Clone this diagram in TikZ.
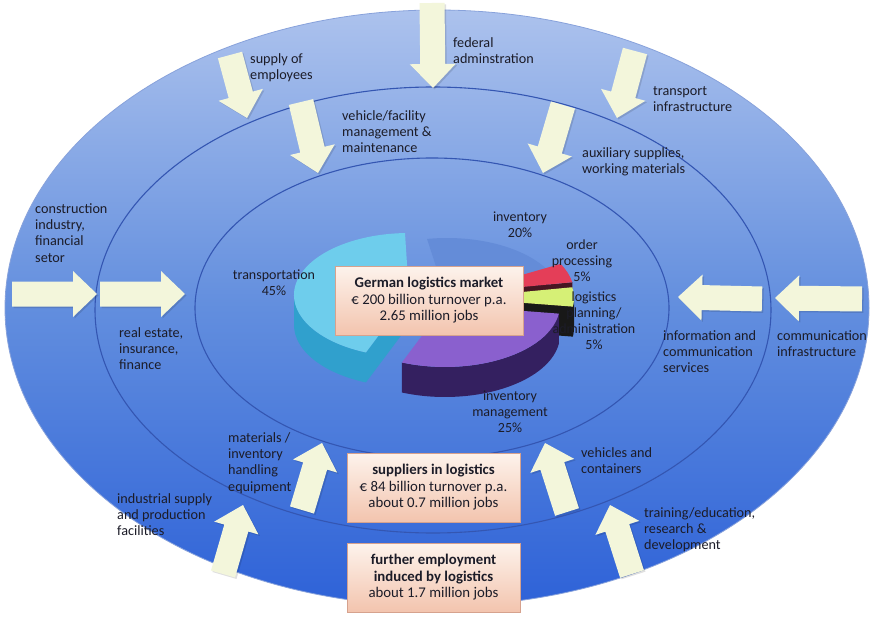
\documentclass[tikz,border=0pt]{standalone}
\usepackage{fontspec}
\setmainfont{Carlito}
\usetikzlibrary{calc}

% colours
\definecolor{bgtop}{RGB}{172,194,237}
\definecolor{bgmid}{RGB}{98,142,222}
\definecolor{bgbottom}{RGB}{46,98,216}
\definecolor{ringline}{RGB}{52,86,178}
\definecolor{arrowfill}{RGB}{243,246,219}
\definecolor{labeltext}{RGB}{28,28,40}
\definecolor{boxtop}{RGB}{253,243,236}
\definecolor{boxbottom}{RGB}{243,196,174}
\definecolor{boxline}{RGB}{214,162,142}
% pie colours
\definecolor{invtop}{RGB}{100,140,216}
\definecolor{invside}{RGB}{26,36,86}
\definecolor{ordtop}{RGB}{228,62,88}
\definecolor{ordside}{RGB}{70,22,34}
\definecolor{plantop}{RGB}{214,240,118}
\definecolor{planside}{RGB}{24,24,24}
\definecolor{trtop}{RGB}{110,205,236}
\definecolor{trside}{RGB}{48,160,205}
\definecolor{imtop}{RGB}{138,96,206}
\definecolor{imside}{RGB}{52,32,96}

% block arrow sizes (shaft half width, head half width, head length)
\def\aw{12.5}
\def\ah{23}
\def\ahl{24}

% block arrow from tail centre (#1,#2) to tip (#3,#4)
\newcommand{\blockarrow}[4]{%
  \pgfmathsetmacro\bdx{(#3)-(#1)}%
  \pgfmathsetmacro\bdy{(#4)-(#2)}%
  \pgfmathsetmacro\blen{veclen(\bdx,\bdy)}%
  \pgfmathsetmacro\bux{\bdx/\blen}%
  \pgfmathsetmacro\buy{\bdy/\blen}%
  \pgfmathsetmacro\bnx{0-(\buy)}%
  \pgfmathsetmacro\bny{\bux}%
  \pgfmathsetmacro\bbx{(#3)-(\bux)*\ahl}%
  \pgfmathsetmacro\bby{(#4)-(\buy)*\ahl}%
  \pgfmathsetmacro\baAx{(#1)+(\bnx)*\aw}\pgfmathsetmacro\baAy{(#2)+(\bny)*\aw}%
  \pgfmathsetmacro\baBx{\bbx+(\bnx)*\aw}\pgfmathsetmacro\baBy{\bby+(\bny)*\aw}%
  \pgfmathsetmacro\baCx{\bbx+(\bnx)*\ah}\pgfmathsetmacro\baCy{\bby+(\bny)*\ah}%
  \pgfmathsetmacro\baDx{\bbx-(\bnx)*\ah}\pgfmathsetmacro\baDy{\bby-(\bny)*\ah}%
  \pgfmathsetmacro\baEx{\bbx-(\bnx)*\aw}\pgfmathsetmacro\baEy{\bby-(\bny)*\aw}%
  \pgfmathsetmacro\baFx{(#1)-(\bnx)*\aw}\pgfmathsetmacro\baFy{(#2)-(\bny)*\aw}%
  \begin{scope}[shift={(1.5,1.5)}]
  \fill[arrowshade] (\baAx,\baAy) -- (\baBx,\baBy) -- (\baCx,\baCy) -- (#3,#4)
    -- (\baDx,\baDy) -- (\baEx,\baEy) -- (\baFx,\baFy) -- cycle;%
  \end{scope}
  \fill[arrowbody] (\baAx,\baAy) -- (\baBx,\baBy) -- (\baCx,\baCy) -- (#3,#4)
    -- (\baDx,\baDy) -- (\baEx,\baEy) -- (\baFx,\baFy) -- cycle;%
}

% pie geometry: top face radii 115 and 62, thickness 30
% side wall of a slice along one radius: centre x, centre y, angle, colour
\newcommand{\piewall}[4]{%
  \fill[#4] (#1,#2) -- ++(#3:115 and 62) -- ++(0,30) -- (#1,#2+30) -- cycle;}
% curved outer side of a slice: centre x, centre y, from, to, colour
\newcommand{\pieband}[5]{%
  \fill[#5] (#1,#2) ++(#3:115 and 62) arc[start angle=#3, end angle=#4, x radius=115, y radius=62]
    -- ++(0,30) arc[start angle=#4, end angle=#3, x radius=115, y radius=62] -- cycle;}
% top face of a slice: centre x, centre y, from, to, colour
\newcommand{\pietop}[5]{%
  \fill[#5] (#1,#2) -- ++(#3:115 and 62) arc[start angle=#3, end angle=#4, x radius=115, y radius=62] -- cycle;}

\tikzset{
  arrowbody/.style={fill=arrowfill},
  arrowshade/.style={fill=black, fill opacity=0.12},
  ring/.style={draw=ringline, line width=1.1pt},
  lbl/.style={anchor=north west, align=left, inner sep=0pt, text=labeltext,
    font=\fontsize{14.2}{16.4}\selectfont},
  plbl/.style={anchor=north, align=center, inner sep=0pt, text=labeltext,
    font=\fontsize{14}{16}\selectfont},
  infobox/.style={draw=boxline, line width=0.6pt, top color=boxtop, bottom color=boxbottom,
    align=center, text=labeltext, inner sep=0pt, font=\fontsize{14.8}{16.5}\selectfont},
}

\begin{document}
\begin{tikzpicture}[x=1pt,y=-1pt]
\useasboundingbox (0,0) rectangle (871,623);
\fill[white] (0,0) rectangle (871,623);

% the three rings
\shade[top color=bgtop, bottom color=bgbottom, middle color=bgmid]
  (437,308) ellipse [x radius=432, y radius=298];
\draw[draw=bgtop!70!ringline, line width=0.8pt] (437,308) ellipse [x radius=432, y radius=298];
\draw[ring] (433,310) ellipse [x radius=338, y radius=223];
\draw[ring] (432,308) ellipse [x radius=237, y radius=150];

% 3D pie chart of the logistics market
% inventory 20%
\piewall{447}{300}{-28}{invside}
\pietop{447}{300}{-100}{-28}{invtop}
% order processing 5%
\piewall{459}{293}{-10}{ordside}
\pietop{459}{293}{-28}{-10}{ordtop}
% logistics planning/administration 5%
\piewall{459}{298}{8}{planside}
\pieband{459}{298}{0}{8}{planside}
\pietop{459}{298}{-10}{8}{plantop}
% transportation 45%
\piewall{409}{295}{112}{trside}
\pieband{409}{295}{112}{180}{trside}
\pietop{409}{295}{112}{268}{trtop}
% inventory management 25%
\pieband{445}{305}{8}{112}{imside}
\pietop{445}{305}{8}{112}{imtop}

% inflow arrows, outer ring
\blockarrow{432}{3}{433}{88}
\blockarrow{230}{55}{247}{118}
\blockarrow{635}{51}{617}{118}
\blockarrow{12}{294}{97}{294}
\blockarrow{862}{299}{775}{298}
\blockarrow{223}{574}{243}{505}
\blockarrow{632}{574}{610}{505}
% inflow arrows, middle ring
\blockarrow{301}{102}{318}{173}
\blockarrow{563}{105}{543}{173}
\blockarrow{100}{294}{185}{294}
\blockarrow{762}{299}{678}{297}
\blockarrow{302}{510}{322}{443}
\blockarrow{567}{512}{545}{443}

% ring labels
\node[lbl] (supply) at (250,53) {supply of\\employees};
\node[lbl] (federal) at (453,37) {federal\\adminstration};
\node[lbl] (transport) at (653,86) {transport\\infrastructure};
\node[lbl] (vehicle) at (342,110) {vehicle/facility\\management \&\\maintenance};
\node[lbl] (auxiliary) at (582,147) {auxiliary supplies,\\working materials};
\node[lbl] (construction) at (35,203) {construction\\industry,\\financial\\setor};
\node[lbl] (realestate) at (119,327) {real estate,\\insurance,\\finance};
\node[lbl] (infoservices) at (663,330) {information and\\communication\\services};
\node[lbl] (comminfra) at (777,330) {communication\\infrastructure};
\node[lbl] (materials) at (228,432) {materials /\\inventory\\handling\\equipment};
\node[lbl] (industrial) at (117,493) {industrial supply\\and production\\facilities};
\node[lbl] (vehicles) at (581,447) {vehicles and\\containers};
\node[lbl] (training) at (644,507) {training/education,\\research \&\\development};

% pie labels
\node[plbl] (ptransport) at (274,270) {transportation\\45\%};
\node[plbl] (pinventory) at (520,212) {inventory\\20\%};
\node[plbl] (porder) at (582,240) {order\\processing\\5\%};
\node[plbl] (pplanning) at (594,292) {logistics\\planning/\\administration\\5\%};
\node[plbl] (pmanagement) at (510,391) {inventory\\management\\25\%};

% figure boxes
\node[infobox, minimum width=188pt, minimum height=69pt] (market) at (429,300.5)
  {\textbf{German logistics market}\\€ 200 billion turnover p.a.\\2.65 million jobs};
\node[infobox, minimum width=173pt, minimum height=69pt] (suppliers) at (433.5,487.5)
  {\textbf{suppliers in logistics}\\€ 84 billion turnover p.a.\\about 0.7 million jobs};
\node[infobox, minimum width=173pt, minimum height=69pt] (further) at (433.5,577.5)
  {\textbf{further employment}\\\textbf{induced by logistics}\\about 1.7 million jobs};
\end{tikzpicture}
\end{document}
